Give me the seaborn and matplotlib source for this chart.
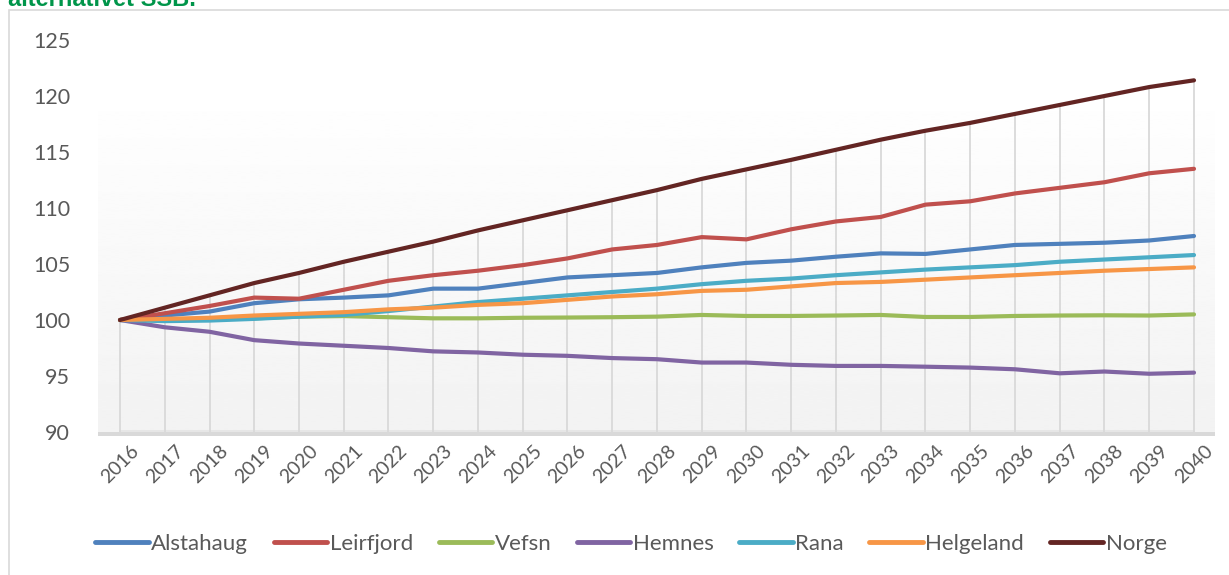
import matplotlib
matplotlib.use("Agg")
import matplotlib.pyplot as plt
from matplotlib.patches import Rectangle
from matplotlib.lines import Line2D
import numpy as np
import pandas as pd
import seaborn as sns

years = list(range(2016, 2041))
alstahaug = [100, 100.4, 100.75, 101.5, 101.85, 102.0, 102.2, 102.8, 102.8, 103.3, 103.8, 104.0, 104.2,
             104.7, 105.1, 105.3, 105.65, 105.95, 105.9, 106.3, 106.7, 106.8, 106.9, 107.1, 107.5]
leirfjord = [100, 100.6, 101.25, 102.0, 101.9, 102.7, 103.5, 104.0, 104.4, 104.9, 105.5, 106.3, 106.7,
             107.4, 107.2, 108.1, 108.8, 109.2, 110.3, 110.6, 111.3, 111.8, 112.3, 113.1, 113.5]
vefsn = [100, 100.0, 100.05, 100.15, 100.3, 100.35, 100.25, 100.15, 100.15, 100.2, 100.22, 100.25, 100.3,
         100.45, 100.36, 100.36, 100.4, 100.45, 100.27, 100.27, 100.36, 100.4, 100.42, 100.4, 100.5]
hemnes = [100, 99.35, 98.95, 98.2, 97.9, 97.7, 97.5, 97.2, 97.1, 96.9, 96.8, 96.6, 96.5,
          96.2, 96.2, 96.0, 95.9, 95.9, 95.83, 95.75, 95.6, 95.24, 95.4, 95.2, 95.3]
rana = [100, 99.9, 99.95, 100.1, 100.3, 100.45, 100.8, 101.2, 101.6, 101.9, 102.2, 102.5, 102.8,
        103.2, 103.5, 103.7, 104.0, 104.25, 104.5, 104.7, 104.9, 105.2, 105.4, 105.6, 105.8]
helgeland = [100, 100.1, 100.2, 100.4, 100.55, 100.7, 100.95, 101.1, 101.35, 101.5, 101.8, 102.1, 102.3,
             102.6, 102.7, 103.0, 103.3, 103.4, 103.6, 103.8, 104.0, 104.2, 104.4, 104.55, 104.7]
norge = [100, 101.1, 102.2, 103.3, 104.2, 105.2, 106.1, 107.0, 108.0, 108.9, 109.8, 110.7, 111.6,
         112.6, 113.45, 114.3, 115.2, 116.1, 116.9, 117.6, 118.4, 119.2, 120.0, 120.8, 121.4]

series_names = ["Alstahaug", "Leirfjord", "Vefsn", "Hemnes", "Rana", "Helgeland", "Norge"]
series_values = [alstahaug, leirfjord, vefsn, hemnes, rana, helgeland, norge]
colors = ["#4F81BD", "#C0504D", "#9BBB59", "#8064A2", "#4BACC6", "#F79646", "#632523"]
y_ticks = [90, 95, 100, 105, 110, 115, 120, 125]
title_text = "alternativet SSB."

df = pd.DataFrame({
    "year": np.tile(years, len(series_names)),
    "value": np.concatenate(series_values),
    "series": np.repeat(series_names, len(years)),
})

sns.set_theme(style="white")
plt.rcParams["font.family"] = ["Lato", "DejaVu Sans"]

W, H = 1229, 575
fig = plt.figure(figsize=(W / 100, H / 100), dpi=100)
fig.patch.set_facecolor("white")

# outer border
fig.patches.append(Rectangle((8.5 / W, -0.1), 2, 1.1 - 10.5 / H, transform=fig.transFigure,
                             fill=False, edgecolor="#D9D9D9", linewidth=1.2))

ax = fig.add_axes([98 / W, 1 - 432 / H, (1215 - 98) / W, (432 - 40) / H])
ax.set_facecolor("none")
for s in ax.spines.values():
    s.set_visible(False)

x0 = 2016 - 22 / 44.75
x1 = 2040 + 21 / 44.75
ax.set_xlim(x0, x1)
ax.set_ylim(90, 125)

# gradient wall
grad = np.linspace(0.95, 1.0, 256).reshape(-1, 1)
ax.imshow(grad, extent=[x0, x1, 90, 121.0], origin="lower", aspect="auto",
          cmap="gray", vmin=0, vmax=1, zorder=0, interpolation="bilinear")
# floor band
ax.add_patch(Rectangle((0, -0.011), 1, 0.011, transform=ax.transAxes, clip_on=False,
                       facecolor="#D9D9D9", edgecolor="none", zorder=1))
ax.plot([2016, 2040], [90.1, 90.1], color="#E4E4E4", lw=1.2, zorder=1)

# drop lines
ax.vlines(years, 90, norge, color="#D9D9D9", lw=1.3, zorder=1)

sns.lineplot(data=df, x="year", y="value", hue="series", hue_order=series_names,
             palette=colors, linewidth=3.0, ax=ax, legend=False, zorder=3)

ax.set_xlabel("")
ax.set_ylabel("")
ax.set_yticks(y_ticks)
ax.set_yticklabels([str(v) for v in y_ticks], fontsize=15.5, color="#595959")
ax.set_xticks(years)
ax.set_xticklabels([str(y) for y in years], fontsize=14, color="#595959", rotation=45, ha="center")
ax.tick_params(axis="y", length=0, pad=20)
ax.tick_params(axis="x", length=0, pad=7)

handles = [Line2D([0], [0], color=c, lw=3.5, solid_capstyle="round") for c in colors]
fig.legend(handles, series_names, loc="center", bbox_to_anchor=(631 / W, 31 / H), ncol=7,
           frameon=False, fontsize=16, handlelength=2.4, handletextpad=0.12, columnspacing=1.15,
           labelcolor="#595959")

fig.text(8 / W, 1 - 6 / H, title_text, fontsize=17, fontweight="bold", color="#00954A",
         family=["Liberation Sans", "DejaVu Sans"], ha="left", va="baseline")

fig.savefig("out.png", dpi=100)
